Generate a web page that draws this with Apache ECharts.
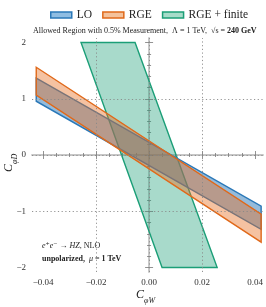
<!DOCTYPE html>
<html><head><meta charset="utf-8">
<script src="https://cdn.jsdelivr.net/npm/echarts@6/dist/echarts.min.js"></script>
<style>html,body{margin:0;padding:0;background:#fff}#c{width:266px;height:307px}</style>
</head><body><div id="c"></div>
<script>
// Polygons (C_phiW, C_phiD)
const loX = [-0.0426, 0.0423, 0.0423, -0.0426];
const loY = [1.365, -0.91, -1.32, 0.956];
const rgeX = [-0.0426, 0.0423, 0.0423, -0.0426];
const rgeY = [1.56, -1.05, -1.55, 1.063];
const finX = [-0.0257, -0.0053, 0.0257, 0.0049];
const finY = [2.0, 2.0, -2.0, -2.0];
const xMajor = [-0.04, -0.02, 0, 0.02, 0.04];
const xMinor = [-0.035, -0.03, -0.025, -0.015, -0.01, -0.005, 0.005, 0.01, 0.015, 0.025, 0.03, 0.035];
const yMajor = [-2, -1, 0, 1, 2];
const yMinor = [-1.8, -1.6, -1.4, -1.2, -0.8, -0.6, -0.4, -0.2, 0.2, 0.4, 0.6, 0.8, 1.2, 1.4, 1.6, 1.8];
const xGrid = [-0.02, 0, 0.02];
const yGrid = [-1, 0, 1];

const SERIF = '"Liberation Serif","DejaVu Serif",serif';
const XMIN = -0.0442, XMAX = 0.043, YMIN = -2.08, YMAX = 2.08;
const frame = {show: true, lineStyle: {color: '#c4c4c4', width: 1.5}};

function xa(pos, vals, len, labels, line) {
  return {type: 'value', min: XMIN, max: XMAX, position: pos, gridIndex: 0,
    axisLine: line ? frame : {show: false},
    axisTick: {show: true, inside: true, length: len, customValues: vals, lineStyle: {color: '#777', width: 0.8}},
    axisLabel: labels ? {show: true, customValues: xMajor, formatter: v => (Math.abs(v) < 1e-9 ? '0.00' : (v < 0 ? '\u2212' : '') + Math.abs(v).toFixed(2)), fontFamily: SERIF, fontSize: 9, color: '#333', margin: 6} : {show: false},
    splitLine: {show: false}};
}
function ya(pos, vals, len, labels, line) {
  return {type: 'value', min: YMIN, max: YMAX, position: pos, gridIndex: 0,
    axisLine: line ? frame : {show: false},
    axisTick: {show: true, inside: true, length: len, customValues: vals, lineStyle: {color: '#777', width: 0.8}},
    axisLabel: labels ? {show: true, customValues: yMajor, formatter: v => (v < 0 ? '\u2212' : '') + Math.abs(v), fontFamily: SERIF, fontSize: 9, color: '#333', margin: 6} : {show: false},
    splitLine: {show: false}};
}

function poly(name, xs, ys, fill, stroke, z) {
  return {type: 'custom', name, xAxisIndex: 0, yAxisIndex: 0, z,
    itemStyle: {color: fill, borderColor: stroke},
    data: [0],
    renderItem: (params, api) => ({
      type: 'polygon',
      shape: {points: xs.map((x, i) => api.coord([x, ys[i]]))},
      style: {fill, stroke, lineWidth: 1.4}
    })};
}

const sub = {
  c: {fontFamily: SERIF, fontSize: 12, fontStyle: 'italic', fill: '#222', lineHeight: 16, verticalAlign: 'top'},
  s: {fontFamily: SERIF, fontSize: 8, fontStyle: 'italic', fill: '#222', lineHeight: 16, verticalAlign: 'bottom', padding: [6, 0, 0, 0]}
};

const chart = echarts.init(document.getElementById('c'), null, {renderer: 'canvas'});
chart.setOption({
  animation: false,
  grid: {left: 32, right: 3, top: 38, bottom: 35, containLabel: false},
  xAxis: [xa('bottom', xMajor, 4, true, true), xa('bottom', xMinor, 2, false, false),
          xa('top', xMajor, 4, false, true), xa('top', xMinor, 2, false, false)],
  yAxis: [ya('left', yMajor, 4, true, true), ya('left', yMinor, 2, false, false),
          ya('right', yMajor, 4, false, true), ya('right', yMinor, 2, false, false)],
  legend: {left: 45, top: 4, itemWidth: 21, itemHeight: 6, itemGap: 10, icon: 'rect',
    textStyle: {fontFamily: SERIF, fontSize: 11.5, color: '#222'},
    data: [
      {name: 'LO', itemStyle: {color: '#8fbde2', borderColor: '#2a78b8', borderWidth: 1.5}},
      {name: 'RGE', itemStyle: {color: '#f4c29c', borderColor: '#e0691a', borderWidth: 1.5}},
      {name: 'RGE + finite', itemStyle: {color: '#a6dcc9', borderColor: '#1b9e77', borderWidth: 1.5}}
    ]},
  series: [
    {type: 'line', data: [], xAxisIndex: 0, yAxisIndex: 0, z: 1, silent: true,
      markLine: {silent: true, symbol: 'none', label: {show: false},
        lineStyle: {type: [1.2, 2.5], color: '#888', width: 0.9},
        data: xGrid.map(v => ({xAxis: v})).concat(yGrid.map(v => ({yAxis: v})))}},
    poly('RGE + finite', finX, finY, 'rgba(27,158,119,0.38)', '#1b9e77', 2),
    poly('LO', loX, loY, 'rgba(42,120,184,0.5)', '#2a78b8', 3),
    poly('RGE', rgeX, rgeY, 'rgba(230,110,30,0.42)', '#e0691a', 4)
  ],
  graphic: [
    {type: 'text', left: 33, top: 27, style: {text: '{n|Allowed Region with 0.5% Measurement,  \u039b = 1 TeV,  \u221as }{b|= 240 GeV}',
      rich: {n: {fontFamily: SERIF, fontSize: 8, fill: '#222'}, b: {fontFamily: SERIF, fontSize: 8, fontWeight: 'bold', fill: '#222'}}}},
    {type: 'text', left: 42, top: 242, z: 10, style: {text: '{i|e}{n|\u207a}{i|e}{n|\u207b \u2192 }{i|HZ}{n|, NLO}',
      rich: {i: {fontFamily: SERIF, fontSize: 8, fontStyle: 'italic', fill: '#222'}, n: {fontFamily: SERIF, fontSize: 8, fill: '#222'}}}},
    {type: 'text', left: 42, top: 255, z: 10, style: {text: '{b|unpolarized,  }{i|\u03bc}{b| = 1 TeV}',
      rich: {i: {fontFamily: SERIF, fontSize: 8, fontStyle: 'italic', fill: '#222'}, b: {fontFamily: SERIF, fontSize: 8, fontWeight: 'bold', fill: '#222'}}}},
    {type: 'text', left: 136, top: 289, style: {text: '{c|C}{s|\u03c6W}', rich: sub}},
    {type: 'text', x: 3, y: 172, rotation: Math.PI / 2, style: {text: '{c|C}{s|\u03c6D}', rich: sub}}
  ]
});
</script></body></html>
